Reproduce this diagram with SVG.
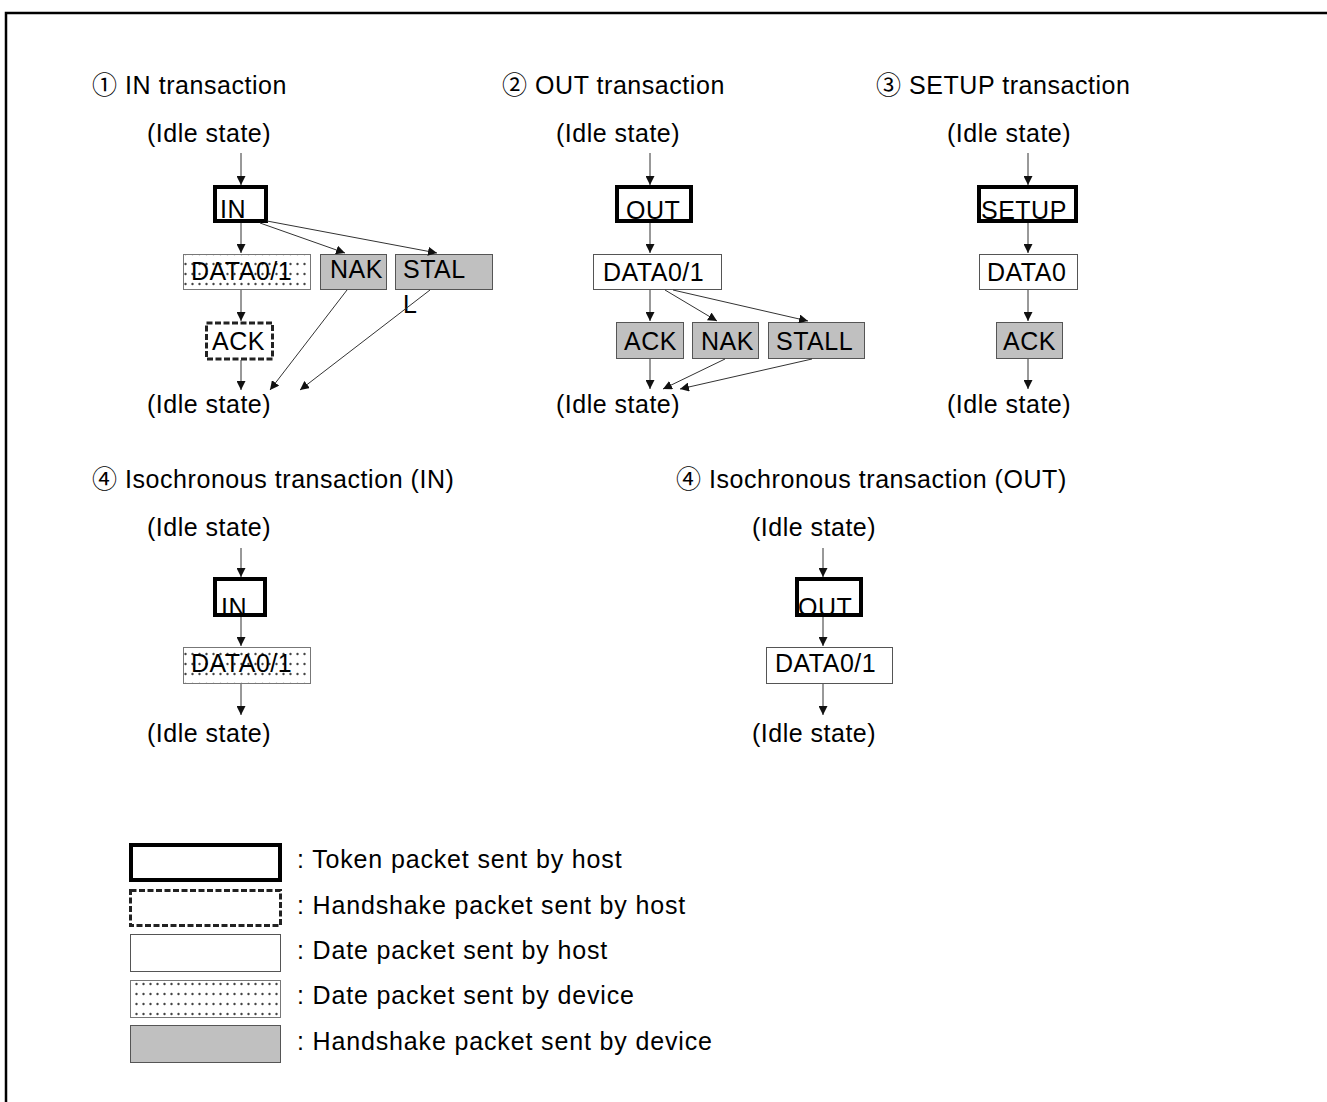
<svg xmlns="http://www.w3.org/2000/svg" width="1327" height="1102" viewBox="0 0 1327 1102">
<style>
text{font-family:"Liberation Sans",Arial,"Noto Sans CJK JP",sans-serif;font-size:25px;fill:#000;letter-spacing:0.5px}
.ttl{letter-spacing:0.55px}
.lg{letter-spacing:0.85px}
.tok{fill:#fff;stroke:#000;stroke-width:4}
.hsh{fill:#fff;stroke:#222;stroke-width:3;stroke-dasharray:6 2.5}
.dh{fill:#fff;stroke:#555;stroke-width:1}
.dd{fill:url(#dots);stroke:#777;stroke-width:1}
.hd{fill:#c0c0c0;stroke:#555;stroke-width:1}
.c line{stroke:#333;stroke-width:1;marker-end:url(#ah)}
</style>
<defs>
<marker id="ah" viewBox="0 0 10 10" refX="10" refY="5" markerWidth="9" markerHeight="9" markerUnits="userSpaceOnUse" orient="auto"><path d="M0,0 L10,5 L0,10 z" fill="#111"/></marker>
<pattern id="dots" width="7" height="10" patternUnits="userSpaceOnUse"><rect width="7" height="10" fill="#fff"/><circle cx="3.5" cy="4" r="1.2" fill="#444"/></pattern>
</defs>
<rect width="1327" height="1102" fill="#fff"/>
<path d="M6,1102 V13 H1327" fill="none" stroke="#000" stroke-width="2.5"/>

<g id="titles">
<text class="ttl" x="92" y="94">① IN transaction</text>
<text class="ttl" x="502" y="94">② OUT transaction</text>
<text class="ttl" x="876" y="94">③ SETUP transaction</text>
<text class="ttl" x="92" y="488">④ Isochronous transaction (IN)</text>
<text class="ttl" x="676" y="488">④ Isochronous transaction (OUT)</text>
</g>

<g id="idle-states">
<text x="147" y="142">(Idle state)</text>
<text x="147" y="413">(Idle state)</text>
<text x="556" y="142">(Idle state)</text>
<text x="556" y="413">(Idle state)</text>
<text x="947" y="142">(Idle state)</text>
<text x="947" y="413">(Idle state)</text>
<text x="147" y="536">(Idle state)</text>
<text x="147" y="742">(Idle state)</text>
<text x="752" y="536">(Idle state)</text>
<text x="752" y="742">(Idle state)</text>
</g>

<g id="in-IN"><rect class="tok" x="215" y="187" width="51" height="34"/><text x="220" y="218">IN</text></g>
<g id="in-DATA"><rect class="dd" x="183.5" y="254.5" width="127" height="35"/><text x="191" y="280">DATA0/1</text></g>
<g id="in-NAK"><rect class="hd" x="320.5" y="254.5" width="66" height="35"/><text x="330" y="278">NAK</text></g>
<g id="in-STALL"><rect class="hd" x="395.5" y="254.5" width="97" height="35"/><text x="403" y="278">STAL<tspan x="403" y="313">L</tspan></text></g>
<g id="in-ACK"><rect class="hsh" x="206.5" y="323" width="66" height="36"/><text x="212" y="350">ACK</text></g>

<g id="out-OUT"><rect class="tok" x="617" y="187" width="74" height="34"/><text x="626" y="219">OUT</text></g>
<g id="out-DATA"><rect class="dh" x="593.5" y="254.5" width="128" height="35"/><text x="603" y="281">DATA0/1</text></g>
<g id="out-ACK"><rect class="hd" x="616.5" y="322.5" width="67" height="36"/><text x="624" y="350">ACK</text></g>
<g id="out-NAK"><rect class="hd" x="692.5" y="322.5" width="66" height="36"/><text x="701" y="350">NAK</text></g>
<g id="out-STALL"><rect class="hd" x="768.5" y="322.5" width="96" height="36"/><text x="776" y="350">STALL</text></g>

<g id="setup-SETUP"><rect class="tok" x="979" y="187" width="97" height="34"/><text x="981" y="219">SETUP</text></g>
<g id="setup-DATA0"><rect class="dh" x="979.5" y="254.5" width="98" height="35"/><text x="987" y="281">DATA0</text></g>
<g id="setup-ACK"><rect class="hd" x="996.5" y="322.5" width="66" height="36"/><text x="1003" y="350">ACK</text></g>

<g id="isoin-IN"><rect class="tok" x="215" y="579" width="50" height="36"/><text x="221" y="616">IN</text></g>
<g id="isoin-DATA"><rect class="dd" x="183.5" y="647.5" width="127" height="36"/><text x="191" y="672">DATA0/1</text></g>

<g id="isoout-OUT"><rect class="tok" x="797" y="579" width="64" height="36"/><text x="798" y="616">OUT</text></g>
<g id="isoout-DATA"><rect class="dh" x="766.5" y="647.5" width="126" height="36"/><text x="775" y="672">DATA0/1</text></g>

<g id="connectors" class="c">
<line x1="241" y1="153" x2="241" y2="185"/>
<line x1="241" y1="223" x2="241" y2="253"/>
<line x1="260" y1="223" x2="345" y2="253"/>
<line x1="267" y1="221" x2="437" y2="253"/>
<line x1="241" y1="290" x2="241" y2="321"/>
<line x1="241" y1="360" x2="241" y2="390"/>
<line x1="347" y1="290" x2="270" y2="390"/>
<line x1="430" y1="290" x2="300" y2="390"/>

<line x1="650" y1="153" x2="650" y2="185"/>
<line x1="650" y1="223" x2="650" y2="253"/>
<line x1="650" y1="290" x2="650" y2="321"/>
<line x1="665" y1="290" x2="717" y2="321"/>
<line x1="673" y1="290" x2="808" y2="321"/>
<line x1="650" y1="359" x2="650" y2="389"/>
<line x1="725" y1="359" x2="663" y2="389"/>
<line x1="812" y1="359" x2="680" y2="389"/>

<line x1="1028" y1="153" x2="1028" y2="185"/>
<line x1="1028" y1="223" x2="1028" y2="253"/>
<line x1="1028" y1="290" x2="1028" y2="321"/>
<line x1="1028" y1="359" x2="1028" y2="389"/>

<line x1="241" y1="548" x2="241" y2="577"/>
<line x1="241" y1="617" x2="241" y2="646"/>
<line x1="241" y1="684" x2="241" y2="715"/>

<line x1="823" y1="548" x2="823" y2="577"/>
<line x1="823" y1="617" x2="823" y2="646"/>
<line x1="823" y1="684" x2="823" y2="715"/>
</g>

<g id="legend">
<rect class="tok" x="131" y="845" width="149" height="35"/>
<rect class="hsh" x="130.5" y="890.5" width="150" height="35"/>
<rect class="dh" x="130.5" y="934.5" width="150" height="37"/>
<rect class="dd" x="130.5" y="980.5" width="150" height="37"/>
<rect class="hd" x="130.5" y="1025.5" width="150" height="37"/>
<text class="lg" x="297" y="868">: Token packet sent by host</text>
<text class="lg" x="297" y="914">: Handshake packet sent by host</text>
<text class="lg" x="297" y="959">: Date packet sent by host</text>
<text class="lg" x="297" y="1004">: Date packet sent by device</text>
<text class="lg" x="297" y="1050">: Handshake packet sent by device</text>
</g>
</svg>
